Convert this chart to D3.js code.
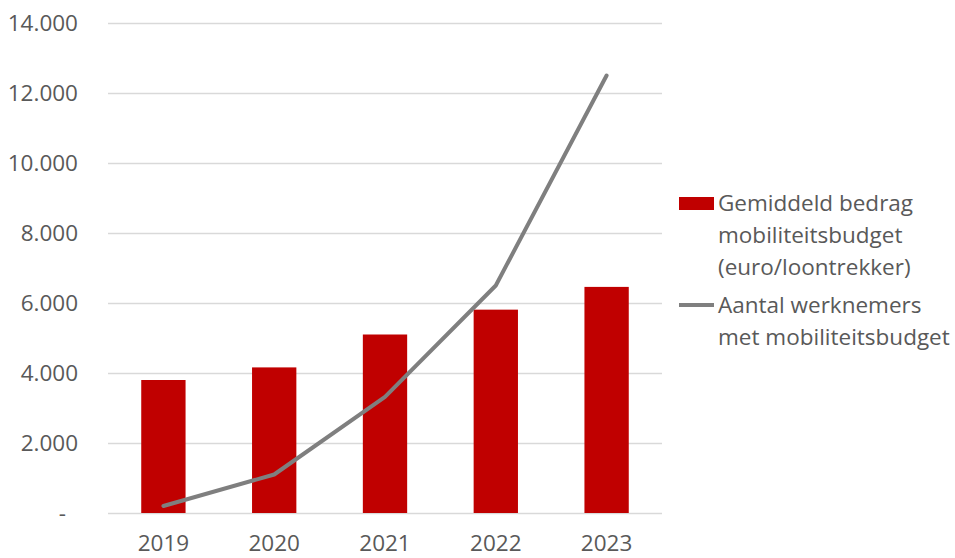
<!DOCTYPE html>
<html>
<head>
<meta charset="utf-8">
<script src="https://cdn.jsdelivr.net/npm/d3@7/dist/d3.min.js"></script>
<style>
  html, body { margin: 0; padding: 0; background: #ffffff; }
  svg { display: block; font-family: "Open Sans", sans-serif; }
</style>
</head>
<body>
<svg id="chart" width="955" height="558"></svg>
<script>
// Mobility budget: average amount per employee (bars) and number of employees (line)
const years = ["2019", "2020", "2021", "2022", "2023"];
const avgBudget = [3800, 4160, 5100, 5810, 6460];
const employees = [200, 1100, 3320, 6500, 12500];
const yTicks = [0, 2000, 4000, 6000, 8000, 10000, 12000, 14000];
const legendBar = ["Gemiddeld bedrag", "mobiliteitsbudget", "(euro/loontrekker)"];
const legendLine = ["Aantal werknemers", "met mobiliteitsbudget"];

const svg = d3.select("#chart");
const margin = { left: 108, right: 293, top: 23, bottom: 45 };
const W = 955, H = 558;
const textColor = "#595959";
const fontSize = "22.5px";

const x = d3.scaleBand()
  .domain(years)
  .range([margin.left, W - margin.right])
  .paddingInner(0.6)
  .paddingOuter(0.3);

const y = d3.scaleLinear()
  .domain([0, 14000])
  .range([H - margin.bottom, margin.top]);

// accounting-style labels: thousands with dots, zero as a dash
const fmt = v => v === 0 ? "-" : d3.format(",")(v).replace(/,/g, ".");

// horizontal gridlines
svg.append("g")
  .selectAll("line")
  .data(yTicks)
  .join("line")
  .attr("x1", margin.left)
  .attr("x2", W - margin.right)
  .attr("y1", d => Math.round(y(d)) + 0.5)
  .attr("y2", d => Math.round(y(d)) + 0.5)
  .attr("stroke", "#d9d9d9")
  .attr("stroke-width", 1.5);

// y axis labels
const yAxis = d3.axisLeft(y).tickValues(yTicks).tickFormat(fmt).tickSize(0).tickPadding(0);
svg.append("g")
  .attr("transform", "translate(78,0)")
  .call(yAxis)
  .call(g => g.select(".domain").remove())
  .call(g => g.selectAll("text")
    .attr("fill", textColor)
    .style("font-size", fontSize)
    .style("font-family", "'Open Sans', sans-serif"))
  .call(g => g.selectAll(".tick")
    .filter(d => d === 0)
    .select("text")
    .attr("x", -12));

// x axis labels
const xAxis = d3.axisBottom(x).tickSize(0).tickPadding(0);
svg.append("g")
  .attr("transform", `translate(0,${H - margin.bottom + 22})`)
  .call(xAxis)
  .call(g => g.select(".domain").remove())
  .call(g => g.selectAll("text")
    .attr("fill", textColor)
    .style("font-size", fontSize)
    .style("font-family", "'Open Sans', sans-serif"));

// bars
svg.append("g")
  .selectAll("rect")
  .data(years.map((yr, i) => ({ yr, v: avgBudget[i] })))
  .join("rect")
  .attr("x", d => x(d.yr))
  .attr("y", d => y(d.v))
  .attr("width", x.bandwidth())
  .attr("height", d => y(0) - y(d.v))
  .attr("fill", "#c00000");

// line
const line = d3.line()
  .x((d, i) => x(years[i]) + x.bandwidth() / 2)
  .y(d => y(d));

svg.append("path")
  .datum(employees)
  .attr("d", line)
  .attr("fill", "none")
  .attr("stroke", "#7f7f7f")
  .attr("stroke-width", 4)
  .attr("stroke-linecap", "round")
  .attr("stroke-linejoin", "round");

// legend
const lg = svg.append("g").attr("fill", textColor)
  .style("font-size", fontSize);

lg.append("rect")
  .attr("x", 679).attr("y", 197)
  .attr("width", 35).attr("height", 13)
  .attr("fill", "#c00000");

lg.append("text")
  .selectAll("tspan")
  .data(legendBar)
  .join("tspan")
  .attr("x", 718)
  .attr("y", (d, i) => 211 + i * 32)
  .text(d => d);

lg.append("line")
  .attr("x1", 679).attr("x2", 714)
  .attr("y1", 305).attr("y2", 305)
  .attr("stroke", "#7f7f7f")
  .attr("stroke-width", 4);

lg.append("text")
  .selectAll("tspan")
  .data(legendLine)
  .join("tspan")
  .attr("x", 718)
  .attr("y", (d, i) => 313 + i * 32)
  .text(d => d);
</script>
</body>
</html>
